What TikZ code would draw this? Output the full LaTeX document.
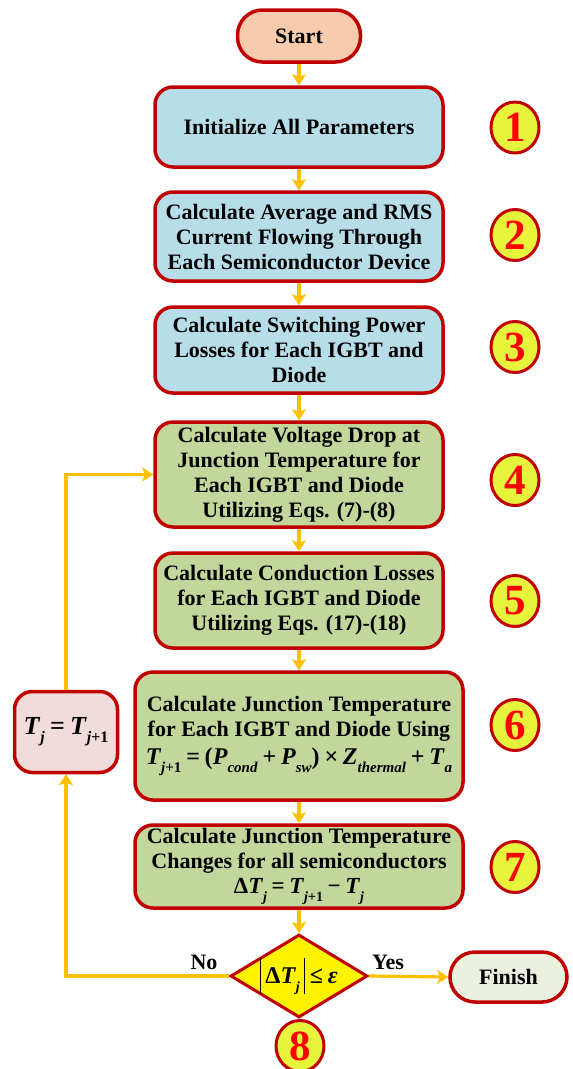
\documentclass[tikz,border=0pt]{standalone}
\usepackage{fontspec}
\setmainfont{Liberation Serif}
\usetikzlibrary{shapes.geometric,arrows.meta}
\definecolor{bord}{HTML}{C00000}
\definecolor{arrc}{HTML}{FFC000}
\definecolor{peach}{HTML}{F8CBAD}
\definecolor{lblue}{HTML}{B7DEE8}
\definecolor{lgreen}{HTML}{C3D69B}
\definecolor{pgreen}{HTML}{EBF1DE}
\definecolor{ppink}{HTML}{F2DCDB}
\definecolor{cfill}{HTML}{E6F53C}
\newcommand{\bi}[1]{\textbf{\textit{#1}}}
\newcommand{\sbs}[2]{\raisebox{-0.32em}{\fontsize{#1}{#1}\selectfont\bfseries #2}}
\newcommand{\op}[1]{\hspace{0.2em}#1\hspace{0.2em}}
\begin{document}
\begin{tikzpicture}[x=1pt,y=-1pt,
  txt/.style={font=\fontsize{22}{25}\selectfont\bfseries, align=center},
  box/.style={draw=bord, line width=3.5pt, rounded corners=18pt, txt, inner sep=2pt},
  pill/.style={box, rounded corners=25pt},
  num/.style={draw=bord, line width=3pt, ellipse, fill=cfill, minimum width=48pt, minimum height=51pt, inner sep=0pt, text=red, font=\fontsize{43}{43}\selectfont\bfseries},
  arr/.style={draw=arrc, line width=3.2pt, -{Stealth[length=11pt,width=14pt,inset=2.5pt]}},
  lab/.style={font=\fontsize{22}{25}\selectfont\bfseries}
]
\useasboundingbox (0,0) rectangle (573,1069);

\node[pill, fill=peach, minimum width=123pt, minimum height=52pt] (start) at (299,36) {Start};
\node[box, fill=lblue, minimum width=288pt, minimum height=80pt] (b1) at (299,127) {Initialize All Parameters};
\node[box, fill=lblue, minimum width=288pt, minimum height=89pt] (b2) at (299,236.5) {Calculate Average and RMS\\Current Flowing Through\\Each Semiconductor Device};
\node[box, fill=lblue, minimum width=288pt, minimum height=86pt] (b3) at (299,350) {Calculate Switching Power\\Losses for Each IGBT and\\Diode};
\node[box, fill=lgreen, minimum width=288pt, minimum height=105pt] (b4) at (299,474.5) {Calculate Voltage Drop at\\Junction Temperature for\\Each IGBT and Diode\\Utilizing Eqs. (7)-(8)};
\node[box, fill=lgreen, minimum width=288pt, minimum height=95pt] (b5) at (299,600.5) {Calculate Conduction Losses\\for Each IGBT and Diode\\Utilizing Eqs. (17)-(18)};
\node[box, fill=lgreen, minimum width=328pt, minimum height=128pt, inner sep=1pt] (b6) at (299,736) {Calculate Junction Temperature\\for Each IGBT and Diode Using\\[3pt]
{\fontsize{24}{26}\selectfont \bi{T}\sbs{15}{\textit{j}+1}\op{=}(\bi{P}\sbs{15}{\textit{cond}}\op{+}\bi{P}\sbs{15}{\textit{sw}})\op{×}\bi{Z}\sbs{15}{\textit{thermal}}\op{+}\bi{T}\sbs{15}{\textit{a}}}};
\node[box, fill=lgreen, minimum width=328pt, minimum height=83pt, inner sep=1pt] (b7) at (299,866.5) {Calculate Junction Temperature\\Changes for all semiconductors\\
{\fontsize{23}{22}\selectfont Δ\bi{T}\sbs{14}{\textit{j}}\op{=}\bi{T}\sbs{14}{\textit{j}+1}\op{−}\bi{T}\sbs{14}{\textit{j}}}};
\node[draw=bord, line width=3pt, diamond, fill=yellow, minimum width=137pt, minimum height=83pt, inner sep=0pt] (dia) at (299,976) {};
\node[lab, font=\fontsize{24}{24}\selectfont\bfseries, inner sep=0pt] (diat) at (dia.center) {\rule[-0.42em]{1.1pt}{1.5em}\,Δ\bi{T}\sbs{14}{\textit{j}}\,\rule[-0.42em]{1.1pt}{1.5em}\hspace{0.2em}≤\hspace{0.2em}\bi{ε}};
\node[pill, fill=pgreen, minimum width=117pt, minimum height=50pt] (finish) at (508.5,977) {Finish};
\node[box, fill=ppink, minimum width=103pt, minimum height=81pt, inner sep=1pt] (tj) at (66,732) {\fontsize{26}{26}\selectfont \bi{T}\sbs{16}{\textit{j}}\op{=}\bi{T}\sbs{16}{\textit{j}+1}};

\node[num] (n1) at (515,127.5) {1};
\node[num] (n2) at (515,235) {2};
\node[num] (n3) at (515,347) {3};
\node[num] (n4) at (515,480) {4};
\node[num] (n5) at (515,601) {5};
\node[num] (n6) at (515,725) {6};
\node[num] (n7) at (515,867) {7};
\node[num] (n8) at (300,1046) {8};

\node[lab] (no) at (204,962) {No};
\node[lab] (yes) at (388,962) {Yes};

\draw[arr] (start.south) -- (b1.north);
\draw[arr] (b1.south) -- (b2.north);
\draw[arr] (b2.south) -- (b3.north);
\draw[arr] (b3.south) -- (b4.north);
\draw[arr] (b4.south) -- (b5.north);
\draw[arr] (b5.south) -- (b6.north);
\draw[arr] (b6.south) -- (b7.north);
\draw[arr] (b7.south) -- (dia.north);
\draw[arr] (dia.east) -- (finish.west);
\draw[arr] (dia.west) -- (dia.west -| tj.south) -- (tj.south);
\draw[arr] (tj.north) |- (b4.west);
\end{tikzpicture}
\end{document}
